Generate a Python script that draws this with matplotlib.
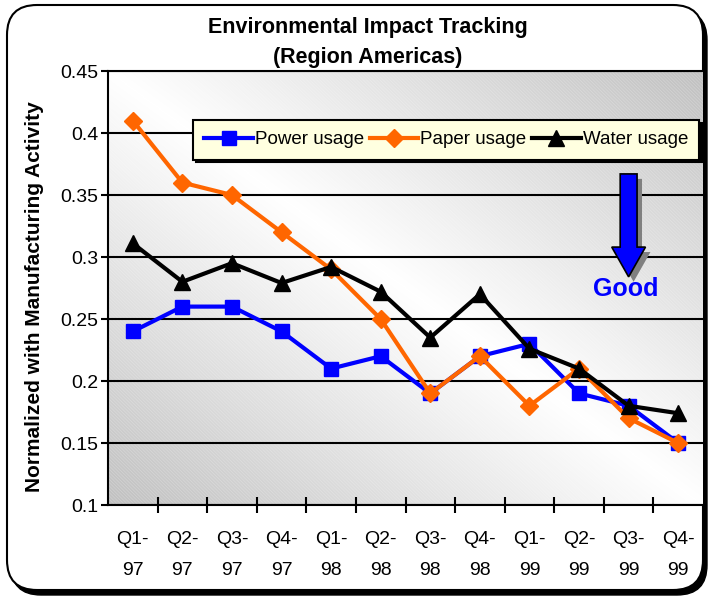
import numpy as np
import matplotlib.pyplot as plt
from matplotlib.patches import FancyBboxPatch, FancyArrow, Rectangle
from matplotlib.colors import LinearSegmentedColormap

plt.rcParams['font.family'] = ['Liberation Sans', 'DejaVu Sans']
plt.rcParams['hatch.linewidth'] = 0.5

# data
quarters = ['Q1-\n97', 'Q2-\n97', 'Q3-\n97', 'Q4-\n97',
            'Q1-\n98', 'Q2-\n98', 'Q3-\n98', 'Q4-\n98',
            'Q1-\n99', 'Q2-\n99', 'Q3-\n99', 'Q4-\n99']
power = [0.24, 0.26, 0.26, 0.24, 0.21, 0.22, 0.19, 0.22, 0.23, 0.19, 0.18, 0.15]
paper = [0.41, 0.36, 0.35, 0.32, 0.29, 0.25, 0.19, 0.22, 0.18, 0.21, 0.17, 0.15]
water = [0.311, 0.28, 0.295, 0.279, 0.292, 0.272, 0.235, 0.27, 0.226, 0.21, 0.18, 0.174]

W, H = 710, 598
fig = plt.figure(figsize=(W / 100, H / 100), dpi=100)

# rounded outer frame with a drop shadow
bg = fig.add_axes([0, 0, 1, 1], zorder=0)
bg.set_xlim(0, W)
bg.set_ylim(0, H)
bg.axis('off')
bg.add_patch(FancyBboxPatch((11, 3), 696, 585, boxstyle='round,pad=0,rounding_size=30',
                            fc='black', ec='black', lw=1))
bg.add_patch(FancyBboxPatch((7, 8), 696, 585, boxstyle='round,pad=0,rounding_size=30',
                            fc='white', ec='black', lw=1.5))

ax = fig.add_axes([108 / W, 93 / H, (703 - 108) / W, 434 / H], zorder=1)

# diagonal grey-white-grey background
xx, yy = np.meshgrid(np.linspace(0, 1, 400), np.linspace(0, 1, 400))
shade = 1 - np.abs(xx + yy - 1)
cmap = LinearSegmentedColormap.from_list('bg', ['#c0c0c0', '#ffffff'])
ax.imshow(shade, extent=[0, 1, 0, 1], transform=ax.transAxes, origin='lower',
          cmap=cmap, aspect='auto', zorder=0, interpolation='bilinear')
ax.add_patch(Rectangle((0, 0), 1, 1, transform=ax.transAxes, fill=False,
                       hatch='\\' * 10, ec=(1, 1, 1, 0.25), lw=0, zorder=0.1))

x = np.arange(len(quarters))
ax.plot(x, power, color='#0000ff', lw=3, marker='s', ms=10, label='Power usage', zorder=3)
ax.plot(x, paper, color='#ff6600', lw=3, marker='D', ms=9, label='Paper usage', zorder=4)
ax.plot(x, water, color='black', lw=3, marker='^', ms=11, label='Water usage', zorder=5)

ax.set_xlim(-0.5, len(quarters) - 0.5)
ax.set_ylim(0.1, 0.45)
ax.set_yticks(np.arange(0.1, 0.451, 0.05))
ax.set_yticklabels(['0.1', '0.15', '0.2', '0.25', '0.3', '0.35', '0.4', '0.45'])
ax.set_axisbelow(True)
ax.yaxis.grid(True, color='black', lw=1.5)

ax.set_xticks(np.arange(0.5, len(quarters) - 1, 1.0))
ax.set_xticklabels([])
ax.set_xticks(x, minor=True)
ax.set_xticklabels(quarters, minor=True, linespacing=2.05)
ax.tick_params(axis='x', which='major', direction='inout', length=12, width=1.5)
ax.tick_params(axis='x', which='minor', length=0, pad=19, labelsize=14)
ax.tick_params(axis='y', direction='out', length=5, width=1.5, labelsize=14, pad=2)

for side in ['left', 'bottom', 'top']:
    ax.spines[side].set_linewidth(1.5)
    ax.spines[side].set_color('black')
ax.spines['right'].set_visible(False)

ax.set_ylabel('Normalized with Manufacturing Activity', fontsize=15, fontweight='bold')
ax.yaxis.set_label_coords(-0.108, 0.48)

leg = ax.legend(loc='upper left', bbox_to_anchor=(0.143, 0.887), borderaxespad=0,
                ncol=3, fontsize=13.5, frameon=True, fancybox=False,
                facecolor='#ffffe0', edgecolor='black', framealpha=1,
                handlelength=2.6, handletextpad=0.1, columnspacing=0.3,
                borderpad=0.6,
                shadow={'facecolor': 'black', 'edgecolor': 'black', 'alpha': 1})
leg.get_frame().set_linewidth(1.5)

# "Good" arrow
ax.add_patch(FancyArrow(10.1, 0.363, 0, -0.083, width=0.34, head_width=0.68,
                        head_length=0.024, length_includes_head=True,
                        fc='#808080', ec='none', zorder=6))
ax.add_patch(FancyArrow(10.0, 0.367, 0, -0.083, width=0.34, head_width=0.68,
                        head_length=0.024, length_includes_head=True,
                        fc='#0000ff', ec='black', lw=1.2, zorder=7))
ax.text(9.95, 0.2745, 'Good', color='#0000ff', fontsize=18, fontweight='bold',
        ha='center', va='center', zorder=7)

fig.text(368 / W, 1 - 27 / H, 'Environmental Impact Tracking', fontsize=15.5,
         fontweight='bold', ha='center', va='center')
fig.text(368 / W, 1 - 58 / H, '(Region Americas)', fontsize=15.5,
         fontweight='bold', ha='center', va='center')

fig.savefig('out.png', dpi=100)
